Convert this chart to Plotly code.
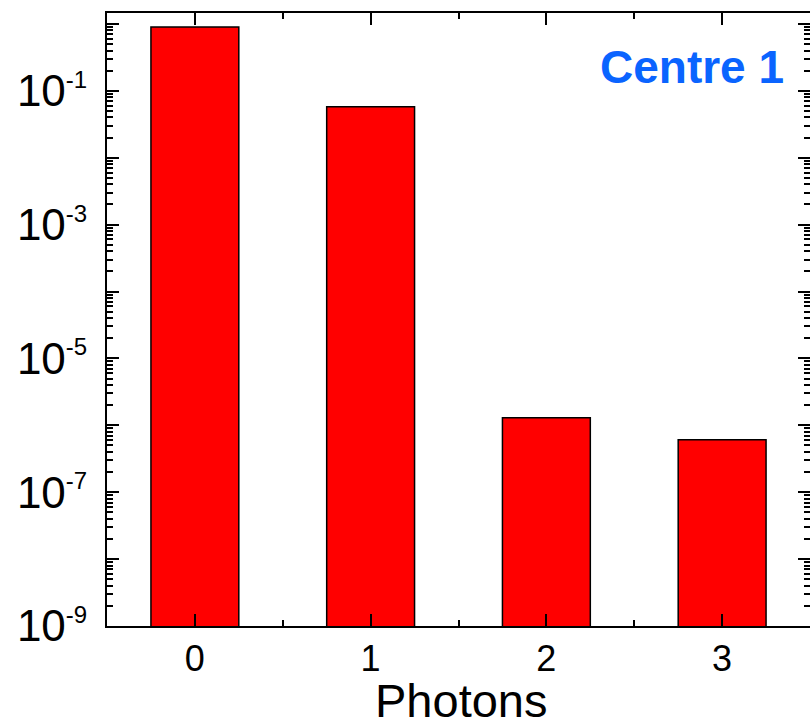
import plotly.graph_objects as go
import numpy as np

photons = [0, 1, 2, 3]
probability = [0.9, 0.058, 1.3e-6, 6.1e-7]
x_tick_labels = ["0", "1", "2", "3"]
decades = list(range(-9, 1))
label_decades = [-9, -7, -5, -3, -1]
annotation_text = "Centre 1"
x_title = "Photons"

FONT = "Arial, Liberation Sans, sans-serif"

tickvals = [10.0 ** d for d in decades]
ticktext = []
for d in decades:
    if d in label_decades:
        ticktext.append("10<sup><span style='font-size:24px'>%d</span></sup>" % d)
    else:
        ticktext.append("")
minor_vals = [m * 10.0 ** d for d in range(-10, 1) for m in range(2, 10)]

fig = go.Figure()
fig.add_trace(go.Bar(
    x=photons, y=probability, width=0.5,
    marker=dict(color="#FF0000", line=dict(color="black", width=1.5)),
))

fig.update_layout(
    width=810, height=724,
    margin=dict(l=107, r=0, t=13, b=98),
    paper_bgcolor="white", plot_bgcolor="white",
    showlegend=False,
    font=dict(family=FONT, color="black"),
    xaxis=dict(
        range=[-0.5, 3.5], tickmode="array", tickvals=photons, ticktext=x_tick_labels,
        ticks="inside", ticklen=12, tickwidth=2, tickcolor="black",
        showline=True, linewidth=2, linecolor="black", mirror="ticks",
        showgrid=False, zeroline=False, automargin=False,
        tickfont=dict(size=36, family=FONT),
        minor=dict(tickmode="array", tickvals=[-0.5, 0.5, 1.5, 2.5, 3.5], ticks="inside",
                   ticklen=6, tickwidth=2, tickcolor="black", showgrid=False),
    ),
    yaxis=dict(
        type="log", range=[-9, 0.163],
        tickmode="array", tickvals=tickvals, ticktext=ticktext,
        ticks="inside", ticklen=12, tickwidth=2, tickcolor="black",
        showline=True, linewidth=2, linecolor="black", mirror="ticks",
        showgrid=False, zeroline=False, automargin=False,
        tickfont=dict(size=44, family=FONT),
        ticklabelstandoff=9,
        minor=dict(tickmode="array", tickvals=minor_vals, ticks="inside",
                   ticklen=6, tickwidth=2, tickcolor="black", showgrid=False),
    ),
    annotations=[
        dict(
            text="<b>%s</b>" % annotation_text, xref="paper", yref="paper",
            x=0.966, y=0.912, xanchor="right", yanchor="middle", showarrow=False,
            font=dict(size=46, color="#0A64FF", family=FONT),
        ),
        dict(
            text=x_title, xref="paper", yref="paper",
            x=0.504, y=-0.121, xanchor="center", yanchor="middle", showarrow=False,
            font=dict(size=47, color="black", family=FONT),
        ),
    ],
)

fig.write_html("out.html")
